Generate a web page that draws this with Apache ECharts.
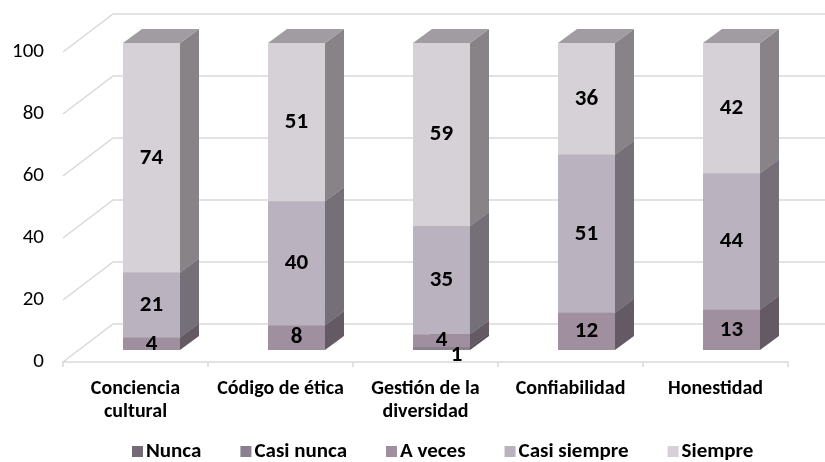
<!DOCTYPE html>
<html>
<head>
<meta charset="utf-8">
<script src="https://cdn.jsdelivr.net/npm/echarts@6/dist/echarts.min.js"></script>
<style>
  html, body { margin: 0; padding: 0; background: #fff; }
  #chart { width: 825px; height: 462px; }
</style>
</head>
<body>
<div id="chart"></div>
<script>
// data
const categories = ['Conciencia\ncultural', 'Código de ética', 'Gestión de la\ndiversidad', 'Confiabilidad', 'Honestidad']
const seriesNames = ['Nunca', 'Casi nunca', 'A veces', 'Casi siempre', 'Siempre']
const nunca = [0, 0, 0, 0, 0]
const casiNunca = [0, 0, 1, 0, 0]
const aVeces = [4, 8, 4, 12, 13]
const casiSiempre = [21, 40, 35, 51, 44]
const siempre = [74, 51, 59, 36, 42]
const yTicks = [0, 20, 40, 60, 80, 100]

const values = [nunca, casiNunca, aVeces, casiSiempre, siempre]
const colors = ['#736a75', '#8b808d', '#9f8f9f', '#bab2bf', '#d6d0d7']
const labelOffset = [[0, 0], [15, 7], [0, 0], [0, 0], [0, 0]]

// fake 3d: bar front sits a bit behind the floor front edge
const FRONT = [16, -12], DEPTH = [19, -14], WALL = [50, -38]
const BAR_RATIO = 0.393
const font = 'Carlito, Lato, "Open Sans", sans-serif'

const shade = (hex, f) => {
  const n = parseInt(hex.slice(1), 16)
  const c = [n >> 16, (n >> 8) & 255, n & 255].map(v => Math.round(v * f))
  return 'rgb(' + c.join(',') + ')'
}

const chart = echarts.init(document.getElementById('chart'))

const wallSeries = {
  type: 'custom',
  silent: true,
  data: yTicks.map(v => [0, v]),
  encode: { x: 0, y: 1 },
  renderItem: (params, api) => {
    const cs = params.coordSys
    const y = api.coord([0, api.value(1)])[1]
    return {
      type: 'polyline',
      shape: { points: [[cs.x, y], [cs.x + WALL[0], y + WALL[1]], [cs.x + cs.width + WALL[0], y + WALL[1]]] },
      style: { stroke: '#d9d9d9', lineWidth: 1.5, fill: null },
    }
  },
  z: 1,
}

const barSeries = seriesNames.map((name, si) => {
  const data = categories.map((c, ci) => {
    let base = 0
    for (let k = 0; k < si; k++) base += values[k][ci]
    return [ci, base, values[si][ci]]
  })
  const col = colors[si]
  return {
    name,
    type: 'custom',
    itemStyle: { color: col },
    data,
    encode: { x: 0, y: 1 },
    z: 2,
    renderItem: (params, api) => {
      const ci = api.value(0), base = api.value(1), val = api.value(2)
      if (!val) return null
      const p0 = api.coord([ci, base]), p1 = api.coord([ci, base + val])
      const w = api.size([1, 0])[0] * BAR_RATIO
      const x0 = p0[0] - w / 2 + FRONT[0], x1 = x0 + w
      const yb = p0[1] + FRONT[1], yt = p1[1] + FRONT[1]
      const dx = DEPTH[0], dy = DEPTH[1]
      return {
        type: 'group',
        children: [
          { type: 'rect', shape: { x: x0, y: yt, width: w, height: yb - yt }, style: { fill: col } },
          { type: 'polygon', shape: { points: [[x1, yt], [x1 + dx, yt + dy], [x1 + dx, yb + dy], [x1, yb]] }, style: { fill: shade(col, 0.63) } },
          { type: 'polygon', shape: { points: [[x0, yt], [x0 + dx, yt + dy], [x1 + dx, yt + dy], [x1, yt]] }, style: { fill: shade(col, 0.75) } },
          {
            type: 'text',
            x: (x0 + x1) / 2 + labelOffset[si][0],
            y: (yt + yb) / 2 + labelOffset[si][1],
            style: { text: String(val), font: 'bold 23px ' + font, fill: '#000', align: 'center', verticalAlign: 'middle' },
            z2: 10,
          },
        ],
      }
    },
  }
})

chart.setOption({
  animation: false,
  grid: { left: 63, right: 37, top: 52, bottom: 100 },
  legend: {
    data: seriesNames,
    top: 436,
    left: 127,
    icon: 'rect',
    itemWidth: 11,
    itemHeight: 11,
    itemGap: 39,
    textStyle: { fontFamily: font, fontSize: 21, fontWeight: 'bold', color: '#000', padding: [0, 0, 0, -2] },
  },
  xAxis: {
    type: 'category',
    data: categories,
    axisLine: { show: true, lineStyle: { color: '#d9d9d9', width: 1.5 } },
    axisTick: { show: true, length: 5, lineStyle: { color: '#d9d9d9', width: 1.5 } },
    axisLabel: { interval: 0, fontFamily: font, fontSize: 20, fontWeight: 'bold', color: '#000', margin: 15, lineHeight: 23 },
  },
  yAxis: {
    type: 'value',
    min: 0,
    max: 100,
    interval: 20,
    axisLine: { show: false },
    axisTick: { show: false },
    splitLine: { show: false },
    axisLabel: { fontFamily: font, fontSize: 21, color: '#000', margin: 19 },
  },
  series: [wallSeries, ...barSeries],
})
</script>
</body>
</html>
